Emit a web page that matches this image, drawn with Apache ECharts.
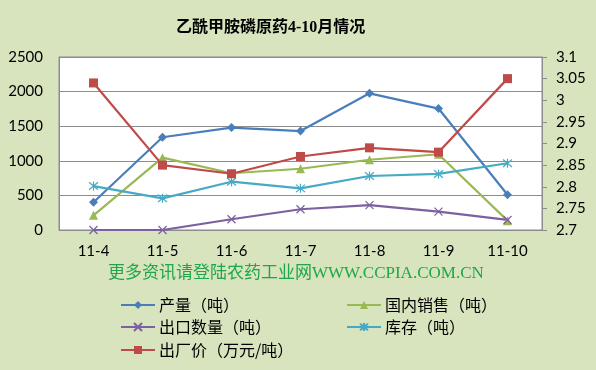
<!DOCTYPE html>
<html><head><meta charset="utf-8">
<script src="https://cdn.jsdelivr.net/npm/echarts@6/dist/echarts.min.js"></script>
<style>html,body{margin:0;padding:0;background:#D7E4BD;}#c{width:596px;height:370px;}</style>
</head><body><div id="c"></div>
<script>
const categories = ['11-4','11-5','11-6','11-7','11-8','11-9','11-10'];
const production = [400, 1340, 1480, 1430, 1975, 1755, 510];
const domesticSales = [212, 1045, 820, 885, 1015, 1095, 135];
const exportQty = [0, 0, 155, 300, 360, 265, 145];
const inventory = [635, 458, 698, 602, 780, 810, 965];
const factoryPrice = [3.04, 2.85, 2.83, 2.87, 2.89, 2.88, 3.05];

const names = ['产量（吨）','国内销售（吨）','出口数量（吨）','库存（吨）','出厂价（万元/吨）'];
const colors = ['#4A7EBB','#98B954','#7D60A0','#46AAC5','#BE4B48'];
const xPath = 'path://M0,0L10,10M10,0L0,10';
const starPath = 'path://M0,0L10,10M10,0L0,10M5,-1L5,11';

const chart = echarts.init(document.getElementById('c'));
const font = 'Lato, "Noto Sans CJK SC", sans-serif';
function legend(name, left, top){
  return {data:[name], left:left, top:top, itemWidth:34, itemHeight:10, itemGap:0,
    textStyle:{fontSize:16, color:'#000', fontFamily:'"Noto Sans CJK SC", sans-serif', padding:[0,0,0,-1]}};
}
chart.setOption({
  backgroundColor:'#D7E4BD',
  animation:false,
  title:{text:'乙酰甲胺磷原药4-10月情况', left:171, top:15,
    textStyle:{fontSize:16, fontWeight:'bold', color:'#000', fontFamily:'"Liberation Serif","Noto Sans CJK SC",serif'}},
  graphic:[{type:'text', left:108, top:265, style:{text:'更多资讯请登陆农药工业网WWW.CCPIA.COM.CN', fill:'#1FA64A', fontSize:17, fontFamily:'"Liberation Serif","Noto Sans CJK SC",serif'}}],
  legend:[legend(names[0],115,292), legend(names[1],341,292), legend(names[2],115,314), legend(names[3],341,314), legend(names[4],115,337)],
  grid:{left:59, right:54, top:57, bottom:140, show:true, backgroundColor:'#fff', borderColor:'#8c8c8c', borderWidth:1},
  xAxis:{type:'category', data:categories, boundaryGap:true,
    axisLine:{lineStyle:{color:'#8c8c8c'}}, axisTick:{show:false},
    axisLabel:{fontSize:15, color:'#000', fontFamily:font, margin:14}},
  yAxis:[
    {type:'value', min:0, max:2500, interval:500,
      axisLine:{show:true, lineStyle:{color:'#8c8c8c'}}, axisTick:{show:false},
      splitLine:{lineStyle:{color:'#8c8c8c'}},
      axisLabel:{fontSize:15, color:'#000', fontFamily:font, margin:16, formatter:v=>String(v)}},
    {type:'value', min:2.7, max:3.1, interval:0.05, position:'right',
      axisLine:{show:true, lineStyle:{color:'#8c8c8c'}}, axisTick:{show:true, length:5, lineStyle:{color:'#8c8c8c'}},
      splitLine:{show:false},
      axisLabel:{fontSize:15, color:'#000', fontFamily:font, margin:14, formatter:v=>String(+v.toFixed(2))}}
  ],
  series:[
    {name:names[0], type:'line', data:production, symbol:'diamond', symbolSize:9, color:colors[0], lineStyle:{width:2.2}},
    {name:names[1], type:'line', data:domesticSales, symbol:'triangle', symbolSize:9, color:colors[1], lineStyle:{width:2.2}},
    {name:names[2], type:'line', data:exportQty, symbol:xPath, symbolSize:8, color:colors[2], lineStyle:{width:2.2},
      itemStyle:{borderColor:colors[2], borderWidth:1.2}},
    {name:names[3], type:'line', data:inventory, symbol:starPath, symbolSize:9, color:colors[3], lineStyle:{width:2.2},
      itemStyle:{borderColor:colors[3], borderWidth:1.2}},
    {name:names[4], type:'line', yAxisIndex:1, data:factoryPrice, symbol:'rect', symbolSize:9, color:colors[4], lineStyle:{width:2.2}}
  ]
});
</script></body></html>
